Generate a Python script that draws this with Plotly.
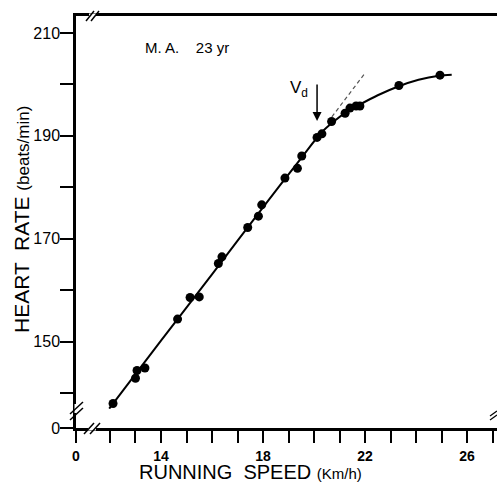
import plotly.graph_objects as go

# ---- data ----
speed = [12.12, 13.0, 13.06, 13.37, 14.65, 15.14, 15.50, 16.25, 16.39, 17.40, 17.82, 17.95,
         18.86, 19.35, 19.52, 20.12, 20.31, 20.69, 21.22, 21.41, 21.65, 21.80, 23.33, 24.94]
heart_rate = [138.0, 142.9, 144.4, 144.9, 154.4, 158.6, 158.7, 165.2, 166.5, 172.2, 174.4, 176.6,
              181.8, 183.7, 186.1, 189.7, 190.4, 192.8, 194.4, 195.4, 195.8, 195.8, 199.8, 201.8]

curve_x = [11.97, 14.0, 16.0, 18.0, 19.5, 20.3, 20.8, 21.3, 21.8, 22.5, 23.3, 24.1, 24.9, 25.4]
curve_y = [137.0, 150.2, 163.1, 176.1, 185.7, 190.7, 192.9, 194.7, 196.1, 197.9, 199.6, 200.9, 201.7, 201.9]

dash_x = [20.70, 21.97]
dash_y = [193.7, 202.0]

vd_x = 20.12
vd_y = 192.9

x_tickvals = [10.667, 14, 18, 22, 26]
x_ticktext = ["0", "14", "18", "22", "26"]
x_minor = [12, 13, 15, 16, 17, 19, 20, 21, 23, 24, 25, 27]
y_tickvals = [133.23, 150, 170, 190, 210]
y_ticktext = ["0", "150", "170", "190", "210"]
y_minor = [140, 160, 180, 200]

# ---- layout geometry (pixels) ----
W, H = 497, 482
L, R, T, B = 76, 0, 16, 54
PW, PH = W - L - R, H - T - B

def px(x):
    return (x - L) / PW

def py(y):
    return (H - B - y) / PH

FONT = "Liberation Sans, Arial, sans-serif"

fig = go.Figure()
fig.add_trace(go.Scatter(x=curve_x, y=curve_y, mode="lines",
                         line=dict(color="black", width=2, shape="spline", smoothing=0.8),
                         hoverinfo="skip"))
fig.add_trace(go.Scatter(x=dash_x, y=dash_y, mode="lines",
                         line=dict(color="#555555", width=1.2, dash="4px,3px"),
                         hoverinfo="skip"))
fig.add_trace(go.Scatter(x=speed, y=heart_rate, mode="markers",
                         marker=dict(color="black", size=9)))

axis_common = dict(showline=True, linecolor="black", linewidth=2.5, ticks="outside",
                   tickcolor="black", tickwidth=1.5, showgrid=False, zeroline=False,
                   tickmode="array")

fig.update_xaxes(range=[10.667, 27.176], tickvals=x_tickvals, ticktext=x_ticktext,
                 ticklen=12, mirror=True, ticklabelstandoff=1,
                 tickfont=dict(family=FONT, size=14, color="black", weight="bold"),
                 minor=dict(tickmode="array", tickvals=x_minor, ticks="outside", ticklen=12,
                            tickwidth=1.5, tickcolor="black", showgrid=False),
                 **axis_common)
fig.update_yaxes(range=[133.23, 213.30], tickvals=y_tickvals, ticktext=y_ticktext,
                 ticklen=13, ticklabelstandoff=-3,
                 tickfont=dict(family=FONT, size=16, color="black"),
                 minor=dict(tickmode="array", tickvals=y_minor, ticks="outside", ticklen=13,
                            tickwidth=1.5, tickcolor="black", showgrid=False),
                 **axis_common)

shapes = []
def seg(x0, y0, x1, y1, color="black", width=1.5):
    shapes.append(dict(type="line", xref="paper", yref="paper",
                       x0=px(x0), y0=py(y0), x1=px(x1), y1=py(y1),
                       line=dict(color=color, width=width), layer="above"))

# x-axis break
seg(88, 428, 96, 428, color="white", width=5)
seg(84, 434, 94, 423)
seg(90, 434, 100, 423)
# y-axis break
seg(77, 404, 77, 413, color="white", width=5)
seg(70, 414, 83, 402)
seg(70, 420, 83, 408)
# top break
seg(89, 16, 96, 16, color="white", width=5)
seg(86, 21, 94, 11)
seg(91, 21, 99, 11)
# right-edge break (cropped)
seg(490, 416, 497, 411, width=1.2)
seg(490, 420, 497, 415, width=1.2)

annotations = [
    dict(xref="paper", yref="paper", x=px(143), y=py(47.5), xanchor="left", yanchor="middle",
         text="M. A.    23 yr", showarrow=False, font=dict(family=FONT, size=15, color="black")),
    dict(xref="paper", yref="paper", x=px(299), y=py(89), xanchor="center", yanchor="middle",
         text="V<sub>d</sub>", showarrow=False, font=dict(family=FONT, size=17, color="black")),
    dict(x=vd_x, y=vd_y, xref="x", yref="y", text="", showarrow=True, ax=0, ay=-38,
         arrowhead=2, arrowsize=1.2, arrowwidth=1.5, arrowcolor="black"),
    dict(xref="paper", yref="paper", x=px(137), y=py(471.5), xanchor="left", yanchor="middle",
         text="RUNNING  SPEED <span style='font-size:15px'>(Km/h)</span>", showarrow=False,
         font=dict(family=FONT, size=20, color="black")),
    dict(xref="paper", yref="paper", x=px(21), y=py(220), xanchor="center", yanchor="middle",
         textangle=-90,
         text="HEART  RATE <span style='font-size:17px'>(beats/min)</span>", showarrow=False,
         font=dict(family=FONT, size=21, color="black")),
]

fig.update_layout(width=W, height=H, margin=dict(l=L, r=R, t=T, b=B, pad=0),
                  paper_bgcolor="white", plot_bgcolor="white", showlegend=False,
                  shapes=shapes, annotations=annotations)

fig.write_html("out.html", config={"displayModeBar": False},
               post_script="document.body.style.margin='0px';document.body.style.overflow='hidden';")
